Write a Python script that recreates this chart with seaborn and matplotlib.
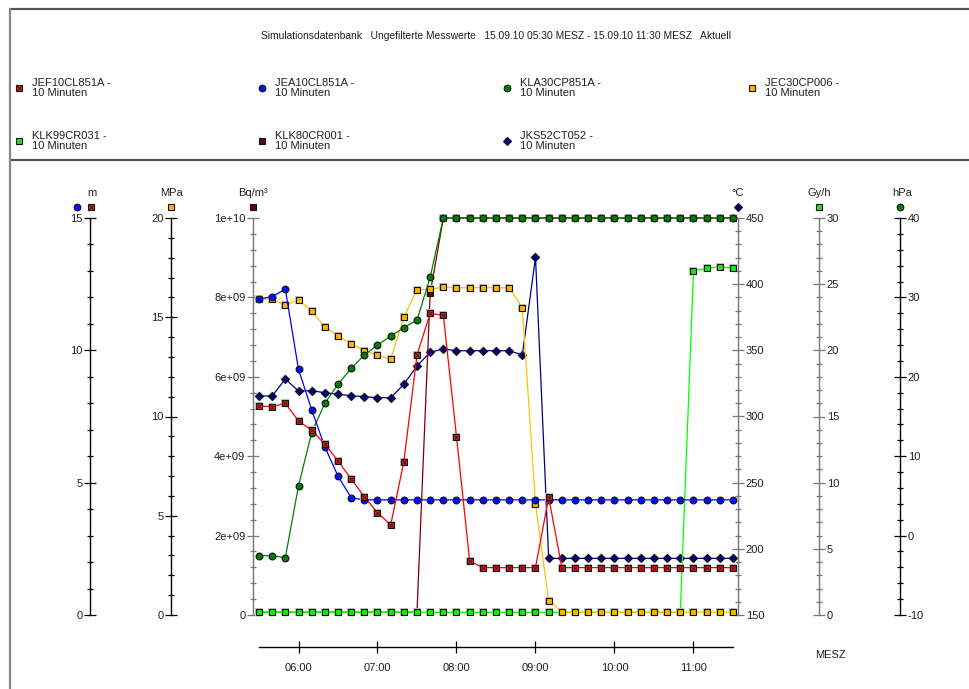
import numpy as np
import matplotlib
matplotlib.use("Agg")
import matplotlib.pyplot as plt
import matplotlib.ticker as ticker
import seaborn as sns

# Messwerte, 10-Minuten-Raster 05:30 ... 11:30 (Minuten ab 05:30)
minutes = np.arange(0, 361, 10)
hour_ticks = [30, 90, 150, 210, 270, 330]
hour_labels = ["06:00", "07:00", "08:00", "09:00", "10:00", "11:00"]

# JEF10CL851A [m]
jef10cl851a = [7.90, 7.87, 8.00, 7.33, 6.99, 6.45, 5.82, 5.14, 4.47, 3.87, 3.40, 5.79, 9.82,
               11.40, 11.32, 6.74, 2.04, 1.79, 1.79, 1.79, 1.79, 1.79, 4.45, 1.79, 1.79,
               1.79, 1.79, 1.79, 1.79, 1.79, 1.79, 1.79, 1.79, 1.79, 1.79, 1.79, 1.79]
# JEA10CL851A [m]
jea10cl851a = [11.94, 12.03, 12.31, 9.28, 7.75, 6.35, 5.25, 4.43, 4.35, 4.35, 4.35, 4.35, 4.35,
               4.35, 4.35, 4.35, 4.35, 4.35, 4.35, 4.35, 4.35, 4.35, 4.35, 4.35, 4.35,
               4.35, 4.35, 4.35, 4.35, 4.35, 4.35, 4.35, 4.35, 4.35, 4.35, 4.35, 4.35]
# KLA30CP851A [hPa]
kla30cp851a = [-2.53, -2.53, -2.78, 6.25, 12.96, 16.66, 19.06, 21.07, 22.75, 24.0, 25.14, 26.18, 27.15,
               32.53, 40, 40, 40, 40, 40, 40, 40, 40, 40, 40, 40,
               40, 40, 40, 40, 40, 40, 40, 40, 40, 40, 40, 40]
# JEC30CP006 [MPa]
jec30cp006 = [15.92, 15.90, 15.62, 15.87, 15.31, 14.52, 14.06, 13.65, 13.31, 13.10, 12.88, 15.00, 16.37,
              16.42, 16.51, 16.49, 16.49, 16.49, 16.49, 16.49, 15.48, 5.59, 0.71, 0.17, 0.14,
              0.14, 0.14, 0.14, 0.14, 0.14, 0.14, 0.14, 0.14, 0.14, 0.14, 0.14, 0.14]
# KLK99CR031 [Gy/h]
klk99cr031 = [0.2, 0.2, 0.2, 0.2, 0.2, 0.2, 0.2, 0.2, 0.2, 0.2, 0.2, 0.2, 0.2,
              0.2, 0.2, 0.2, 0.2, 0.2, 0.2, 0.2, 0.2, 0.2, 0.2, 0.2, 0.2,
              0.2, 0.2, 0.2, 0.2, 0.2, 0.2, 0.2, 0.2, 26.0, 26.2, 26.32, 26.2]
# KLK80CR001 [Bq/m³]
klk80cr001 = [7e7, 7e7, 7e7, 7e7, 7e7, 7e7, 7e7, 7e7, 7e7, 7e7, 7e7, 7e7, 7e7,
              8.1e9, 1e10, 1e10, 1e10, 1e10, 1e10, 1e10, 1e10, 1e10, 1e10, 1e10, 1e10,
              1e10, 1e10, 1e10, 1e10, 1e10, 1e10, 1e10, 1e10, 1e10, 1e10, 1e10, 1e10]
# JKS52CT052 [°C]
jks52ct052 = [315.5, 315.5, 328.3, 319.3, 319.5, 318.0, 316.8, 315.7, 315.0, 314.2, 314.2, 324.3, 338.2,
              348.5, 351.0, 349.7, 349.7, 349.7, 349.7, 349.7, 346.5, 420.3, 192.8, 192.8, 192.8,
              192.8, 192.8, 192.8, 192.8, 192.8, 192.8, 192.8, 192.8, 192.8, 192.8, 192.8, 192.8]

bq_ticks = [0, 2e9, 4e9, 6e9, 8e9, 1e10]
bq_labels = ["0", "2e+09", "4e+09", "6e+09", "8e+09", "1e+10"]

header = ("Simulationsdatenbank   Ungefilterte Messwerte   "
          "15.09.10 05:30 MESZ - 15.09.10 11:30 MESZ   Aktuell")

# Darstellung je Messstelle: (Linienfarbe, Markerfarbe, Marker, Kreuz im Marker)
styles = {
    "JEF10CL851A": ("#ff0000", "#ff1010", "s", True),
    "JEA10CL851A": ("#0000ff", "#0010ff", "o", False),
    "KLA30CP851A": ("#007f00", "#008000", "o", False),
    "JEC30CP006": ("#ffc000", "#ffb400", "s", False),
    "KLK99CR031": ("#00ff00", "#22e022", "s", False),
    "KLK80CR001": ("#800000", "#7a0000", "s", True),
    "JKS52CT052": ("#000080", "#000080", "D", False),
}

sns.set_style("white")
plt.rcParams["font.family"] = ["Liberation Sans Narrow", "Liberation Sans", "DejaVu Sans"]
plt.rcParams["font.size"] = 8
plt.rcParams["axes.unicode_minus"] = False

W, H = 970, 689
fig = plt.figure(figsize=(W / 100, H / 100), dpi=100)

# Plotbereich in Pixeln
L, R, T, B = 253, 738, 218, 615
ax = fig.add_axes([L / W, 1 - B / H, (R - L) / W, (B - T) / H])
ax.set_facecolor("white")


def pos(px):
    return (px - L) / (R - L)


def marker_size(mk):
    return 3.9 if mk == "D" else 4.8


def style_axis(a, side, where, color, major, minor, ylim):
    for s in a.spines.values():
        s.set_visible(False)
    sp = a.spines[side]
    sp.set_visible(True)
    sp.set_position(("axes", where))
    sp.set_color(color)
    sp.set_linewidth(1.0)
    a.yaxis.set_ticks_position(side)
    a.set_ylim(*ylim)
    a.yaxis.set_major_locator(ticker.MultipleLocator(major))
    a.yaxis.set_minor_locator(ticker.MultipleLocator(minor))
    a.tick_params(axis="y", which="major", direction="inout", length=9, width=0.9,
                  color=color, labelsize=8, pad=1, labelcolor="#202020")
    a.tick_params(axis="y", which="minor", direction="inout", length=5, width=0.9, color=color)
    a.set_ylabel("")


# Reihenfolge = Zeichenreihenfolge (letzte oben)
t_bq = ax.twinx()
t_gy = ax.twinx()
t_mpa = ax.twinx()
t_hpa = ax.twinx()
t_m = ax.twinx()


def draw(a, name, values):
    lc, fc, mk, cross = styles[name]
    ms = marker_size(mk)
    # leichter grauer Schatten um die Marker
    a.plot(minutes, values, linestyle="none", marker=mk, markersize=ms + 1.0,
           color="#c4c4c4", markeredgewidth=0, clip_on=False)
    sns.lineplot(x=minutes, y=values, ax=a, color=lc, linewidth=0.9, marker=mk,
                 markersize=ms, markerfacecolor=fc, markeredgecolor="#111111",
                 markeredgewidth=0.8, clip_on=False)
    if cross:
        a.plot(minutes, values, linestyle="none", marker="x", markersize=2.4,
               markeredgewidth=0.6, color="#222222", clip_on=False)


draw(ax, "JKS52CT052", jks52ct052)
draw(t_bq, "KLK80CR001", klk80cr001)
draw(t_gy, "KLK99CR031", klk99cr031)
draw(t_mpa, "JEC30CP006", jec30cp006)
draw(t_hpa, "KLA30CP851A", kla30cp851a)
draw(t_m, "JEA10CL851A", jea10cl851a)
draw(t_m, "JEF10CL851A", jef10cl851a)

style_axis(ax, "right", 1.0, "#777777", 50, 10, (150, 450))
style_axis(t_bq, "left", 0.0, "#777777", 2e9, 4e8, (0, 1e10))
t_bq.set_yticks(bq_ticks, bq_labels)
style_axis(t_gy, "right", pos(819), "#777777", 5, 1, (0, 30))
style_axis(t_mpa, "left", pos(171), "#000000", 5, 1, (0, 20))
style_axis(t_hpa, "right", pos(900), "#000000", 10, 2, (-10, 40))
style_axis(t_m, "left", pos(90), "#000000", 5, 1, (0, 15))

# Zeitachse unter dem Plot
x_per_px = 360 / (733 - 259)
ax.set_xlim(-(259 - L) * x_per_px, 360 + (R - 733) * x_per_px)
ax.spines["bottom"].set_visible(True)
ax.spines["bottom"].set_position(("axes", -32 / (B - T)))
ax.spines["bottom"].set_bounds(0, 360)
ax.spines["bottom"].set_color("black")
ax.spines["bottom"].set_linewidth(1.0)
ax.xaxis.set_ticks_position("bottom")
ax.set_xticks(hour_ticks, hour_labels)
ax.tick_params(axis="x", direction="inout", length=9, width=0.9, color="black",
               labelsize=8, pad=7, labelcolor="#202020")
ax.set_xlabel("")
ax.grid(False)
for a in (t_bq, t_gy, t_mpa, t_hpa, t_m):
    a.grid(False)

# Overlay für Rahmen, Kopfzeile, Legende, Einheiten
ov = fig.add_axes([0, 0, 1, 1], zorder=10)
ov.set_xlim(0, W)
ov.set_ylim(H, 0)
ov.axis("off")
ov.patch.set_alpha(0)

ov.plot([10, W], [9, 9], color="#555555", linewidth=1.6)
ov.plot([10, W], [160, 160], color="#555555", linewidth=1.6)
ov.plot([10, 10], [9, H], color="#888888", linewidth=1.6)

ov.text(496, 36, header, ha="center", va="center", fontsize=7.4, color="#202020")


def marker_at(x, y, name):
    lc, fc, mk, cross = styles[name]
    ov.plot([x], [y], marker=mk, markersize=marker_size(mk), markerfacecolor=fc,
            markeredgecolor="#111111", markeredgewidth=0.8, linestyle="none")
    if cross:
        ov.plot([x], [y], marker="x", markersize=2.4, markeredgewidth=0.6,
                color="#222222", linestyle="none")


legend_names = ["JEF10CL851A", "JEA10CL851A", "KLA30CP851A", "JEC30CP006",
                "KLK99CR031", "KLK80CR001", "JKS52CT052"]
col_x = [19, 262, 507, 752]
row_y = [88, 141]
for i, name in enumerate(legend_names):
    x = col_x[i % 4]
    y = row_y[i // 4]
    marker_at(x, y, name)
    ov.text(x + 13, y, f"{name} -\n10 Minuten", ha="left", va="center",
            fontsize=8, linespacing=1.05, color="#202020")

# Einheiten über den Achsen
units = [(92, "m"), (172, "MPa"), (253, "Bq/m³"), (738, "°C"), (819, "Gy/h"), (902, "hPa")]
for x, u in units:
    ov.text(x, 193, u, ha="center", va="center", fontsize=8, color="#202020")
marker_at(77, 207, "JEA10CL851A")
marker_at(91, 207, "JEF10CL851A")
marker_at(171, 207, "JEC30CP006")
marker_at(253, 207, "KLK80CR001")
marker_at(738, 207, "JKS52CT052")
marker_at(819, 207, "KLK99CR031")
marker_at(900, 207, "KLA30CP851A")

ov.text(830, 655, "MESZ", ha="center", va="center", fontsize=8, color="#202020")

fig.savefig("out.png", dpi=100)
